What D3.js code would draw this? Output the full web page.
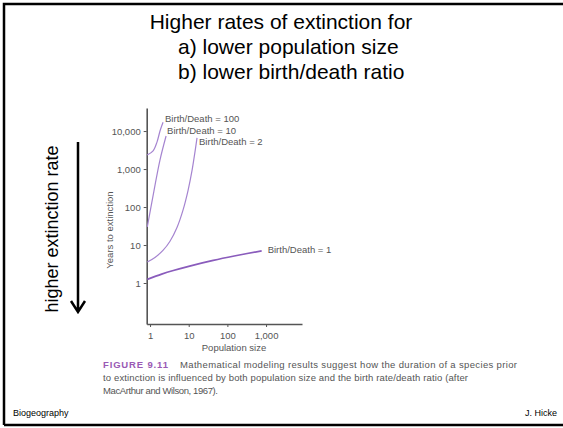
<!DOCTYPE html>
<html>
<head>
<meta charset="utf-8">
<script src="https://cdn.jsdelivr.net/npm/d3@7"></script>
<style>
  body { margin: 0; background: #fff; }
  svg { display: block; font-family: Arial, "Liberation Sans", sans-serif; }
</style>
</head>
<body>
<svg width="563" height="428"></svg>
<script>
// slide text
var titleLines = ["Higher rates of extinction for", "a) lower population size", "b) lower birth/death ratio"];
var sideLabel = "higher extinction rate";

// x: population size, y: years to extinction
var popTicks = [1, 10, 100, 1000];
var yearTicks = [1, 10, 100, 1000, 10000];

var bd1 = [[0.85, 1.25], [2, 1.71], [4, 2.13], [10, 2.75], [43, 3.93], [150, 5.13], [770, 7.03]];
var bd2 = [[0.85, 3.57], [1.34, 4.7], [2.16, 7.2], [3.28, 12.6], [4.98, 29], [7.12, 83],
           [9.6, 272], [12.2, 920], [14.5, 2800], [16.4, 6600]];
var bd10 = [[0.85, 30], [1.25, 250], [1.8, 1700], [2.6, 7400]];
var bd100 = [[0.84, 2330], [1.2, 3000], [1.52, 5200], [1.81, 10000], [2.17, 17000]];

var series = [
  { name: "Birth/Death = 100", values: bd100, dx: 2, dy: 0 },
  { name: "Birth/Death = 10", values: bd10, dx: 1, dy: -2 },
  { name: "Birth/Death = 2", values: bd2, dx: 2, dy: 7 },
  { name: "Birth/Death = 1", values: bd1, dx: 6, dy: 2 }
];

var captionLines = [
  "Mathematical modeling results suggest how the duration of a species prior",
  "to extinction is influenced by both population size and the birth rate/death ratio (after",
  "MacArthur and Wilson, 1967)."
];
var captionWidths = [337, 365, 115];

var svg = d3.select("svg");

// slide frame
svg.append("path")
    .attr("d", "M4,425 V4 H563 M4,425 H563")
    .attr("fill", "none")
    .attr("stroke", "#000")
    .attr("stroke-width", 2.5);

svg.append("text")
    .attr("x", 281).attr("y", 29)
    .attr("text-anchor", "middle")
    .attr("font-size", 21)
    .text(titleLines[0]);
svg.selectAll(".sub").data(titleLines.slice(1)).enter().append("text")
    .attr("x", 178)
    .attr("y", function(d, i) { return 54 + i * 25; })
    .attr("font-size", 21)
    .text(function(d) { return d; });

// side arrow
svg.append("text")
    .attr("transform", "translate(58,229) rotate(-90)")
    .attr("text-anchor", "middle")
    .attr("font-size", 18)
    .text(sideLabel);
svg.append("path")
    .attr("d", "M78,142 V312 M71,301 L78,312 L85,301")
    .attr("fill", "none")
    .attr("stroke", "#000")
    .attr("stroke-width", 2.5);

// chart
var x = d3.scaleLog().domain([0.82, 8500]).range([146.7, 302]);
var y = d3.scaleLog().domain([0.0834, 40400]).range([324, 108]);

var gx = svg.append("g")
    .attr("transform", "translate(0,324)")
    .call(d3.axisBottom(x).tickValues(popTicks).tickFormat(d3.format(",")).tickSize(3).tickSizeOuter(0));
var gy = svg.append("g")
    .attr("transform", "translate(146.7,0)")
    .call(d3.axisLeft(y).tickValues(yearTicks).tickFormat(d3.format(",")).tickSize(3).tickSizeOuter(0));

[gx, gy].forEach(function(g) {
  g.select(".domain").attr("stroke", "#555").attr("stroke-width", 1.6);
  g.selectAll(".tick line").attr("stroke", "#555").attr("stroke-width", 1);
  g.selectAll(".tick text").attr("fill", "#555").attr("font-size", 9.5)
      .attr("font-family", "Arial, 'Liberation Sans', sans-serif");
});
gx.selectAll(".tick text").attr("dy", "0.9em");

svg.append("text")
    .attr("x", 234).attr("y", 351)
    .attr("text-anchor", "middle")
    .attr("font-size", 9.5).attr("fill", "#555")
    .text("Population size");
svg.append("text")
    .attr("transform", "translate(113,230) rotate(-90)")
    .attr("text-anchor", "middle")
    .attr("font-size", 9.5).attr("fill", "#555")
    .text("Years to extinction");

var line = d3.line()
    .x(function(d) { return x(d[0]); })
    .y(function(d) { return y(d[1]); })
    .curve(d3.curveCatmullRom.alpha(0.5));

svg.selectAll(".curve").data(series).enter().append("path")
    .attr("class", "curve")
    .attr("d", function(d) { return line(d.values); })
    .attr("fill", "none")
    .attr("stroke", function(d, i) { return i == 3 ? "#8a5cbc" : "#a584d0"; })
    .attr("stroke-width", function(d, i) { return i == 3 ? 1.7 : 1.2; });

svg.selectAll(".lbl").data(series).enter().append("text")
    .attr("x", function(d) { return x(d.values[d.values.length - 1][0]) + d.dx; })
    .attr("y", function(d) { return y(d.values[d.values.length - 1][1]) + d.dy; })
    .attr("font-size", 9.5).attr("fill", "#555")
    .text(function(d) { return d.name; });

// caption
var cap = svg.append("text").attr("x", 103).attr("y", 368).attr("font-size", 9.5).attr("fill", "#555");
cap.append("tspan").attr("fill", "#9a5ab4").attr("font-weight", "bold")
    .attr("textLength", 65).attr("lengthAdjust", "spacing").text("FIGURE 9.11");
cap.append("tspan").attr("x", 180)
    .attr("textLength", captionWidths[0]).attr("lengthAdjust", "spacing").text(captionLines[0]);
svg.selectAll(".cap").data(captionLines.slice(1)).enter().append("text")
    .attr("x", 103)
    .attr("y", function(d, i) { return 381 + i * 13; })
    .attr("font-size", 9.5).attr("fill", "#555")
    .attr("textLength", function(d, i) { return captionWidths[i + 1]; })
    .attr("lengthAdjust", "spacing")
    .text(function(d) { return d; });

// footer
svg.append("text").attr("x", 13).attr("y", 416).attr("font-size", 9).text("Biogeography");
svg.append("text").attr("x", 557).attr("y", 416).attr("text-anchor", "end").attr("font-size", 9).text("J. Hicke");
</script>
</body>
</html>
